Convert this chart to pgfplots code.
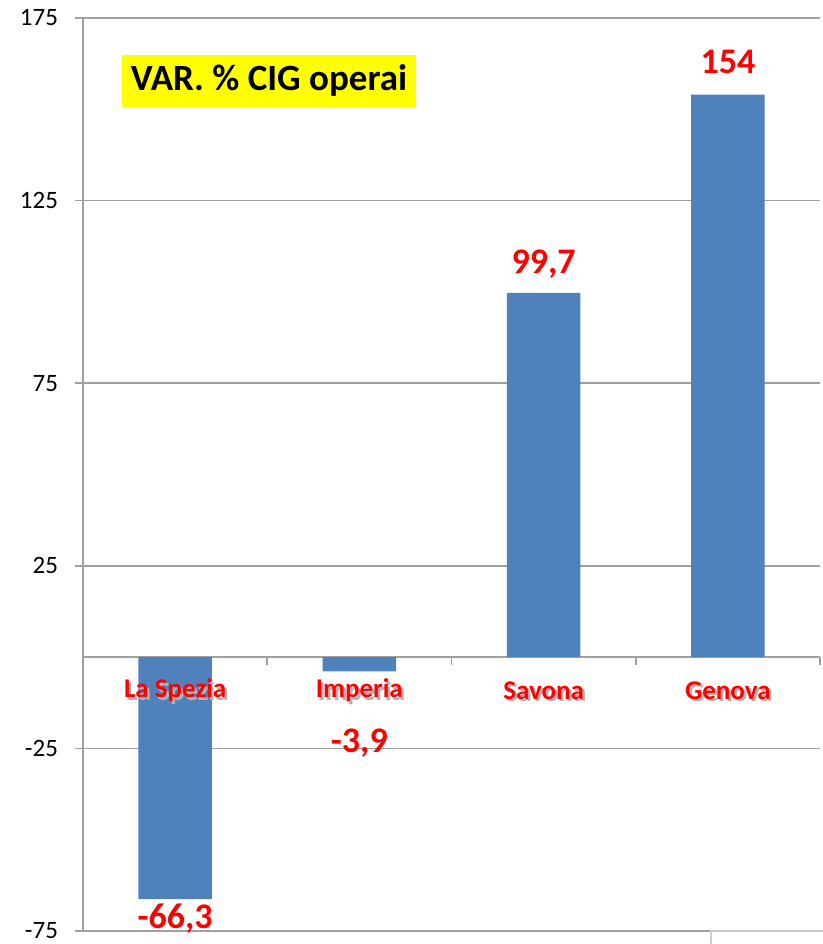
\documentclass[border=0pt]{standalone}
\usepackage{fontspec}
\setmainfont{Carlito}
\usepackage{pgfplots}
\pgfplotsset{compat=1.18}

\definecolor{barblue}{HTML}{4F81BD}
\definecolor{labred}{HTML}{FF0000}
\definecolor{gridgray}{HTML}{A0A0A0}
\definecolor{titleyellow}{HTML}{FFFF00}

\newcommand{\shadowlabel}[1]{%
  \makebox[0pt][l]{\hspace{1.2pt}\raisebox{-1.2pt}{\textcolor{black!30}{#1}}}%
  \textcolor{labred}{#1}}

\begin{document}
\begin{tikzpicture}
\begin{axis}[
    at={(41.5pt,6.5pt)}, anchor=south west,
    scale only axis,
    width=368.5pt, height=456.5pt,
    xmin=-0.5, xmax=3.5,
    ymin=-75, ymax=175,
    axis y line=left,
    axis x line=middle,
    axis line style={draw=gridgray, line width=0.8pt, -},
    ytick={-75,-25,25,75,125,175},
    yticklabels={-75,-25,25,75,125,175},
    ymajorgrids,
    grid style={draw=gridgray, line width=0.8pt},
    xtick={-0.5,0.5,1.5,2.5,3.5},
    xticklabels={},
    major tick length=4pt,
    tick align=outside,
    tick style={draw=gridgray, line width=0.8pt},
    yticklabel style={font=\fontsize{12.5}{14}\selectfont, xshift=-5pt},
    clip=false,
]
\addplot[ybar, bar width=0.4, fill=barblue, draw=none] coordinates {
(0,-66.3)
(1,-3.9)
(2,99.7)
(3,154)
};
\foreach \i/\name in {0/La Spezia,1/Imperia,2/Savona,3/Genova}{
  \edef\temp{\noexpand\node[font=\noexpand\fontsize{13.5}{16}\noexpand\selectfont\noexpand\bfseries, yshift=-17.25pt] at (axis cs:\i,0) {\noexpand\shadowlabel{\name}};}
  \temp
}
\node[font=\fontsize{18}{21}\selectfont\bfseries, text=labred] at (axis cs:0,-71.5) {-66,3};
\node[font=\fontsize{18}{21}\selectfont\bfseries, text=labred] at (axis cs:1,-23.6) {-3,9};
\node[font=\fontsize{18}{21}\selectfont\bfseries, text=labred] at (axis cs:2,107.5) {99,7};
\node[font=\fontsize{18}{21}\selectfont\bfseries, text=labred] at (axis cs:3,163) {154};
\node[fill=titleyellow, minimum width=147pt, minimum height=26pt, inner sep=0pt,
      font=\fontsize{18.5}{21}\selectfont\bfseries] at (axis cs:0.51,157.8) {VAR. \% CIG operai};
\end{axis}
\draw[black!20, fill=white, line width=0.6pt] (355.5pt,-1pt) rectangle (413pt,6.5pt);
\pgfresetboundingbox
\path[use as bounding box] (0,0) rectangle (411.5pt,472pt);
\end{tikzpicture}
\end{document}
